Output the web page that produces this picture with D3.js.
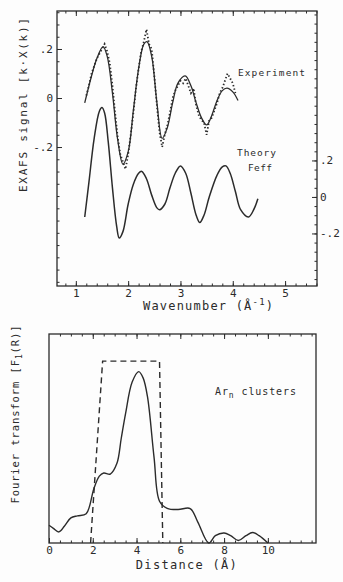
<!DOCTYPE html>
<html>
<head>
<meta charset="utf-8">
<script src="https://cdn.jsdelivr.net/npm/d3@7/dist/d3.min.js"></script>
<style>
  html, body { margin: 0; padding: 0; background: #fdfdfd; }
  svg { display: block; }
  text { font-family: "DejaVu Sans Mono", "Liberation Mono", monospace; fill: #2b2b2b; }
</style>
</head>
<body>
<svg id="fig" width="343" height="582"></svg>
<script>
// --- EXAFS panel: wavenumber k (1/Å) ---
const fitK   = [1.17, 1.3, 1.4, 1.52, 1.6, 1.7, 1.8, 1.9, 2.0, 2.1, 2.2, 2.3, 2.36, 2.45, 2.55, 2.65, 2.75, 2.85, 2.95, 3.09, 3.2, 3.3, 3.4, 3.5, 3.6, 3.7, 3.8, 3.89, 4.0, 4.1];
const fitVal = [-0.02, 0.09, 0.16, 0.21, 0.17, 0.02, -0.17, -0.27, -0.22, -0.05, 0.12, 0.22, 0.23, 0.17, -0.02, -0.165, -0.12, -0.02, 0.06, 0.09, 0.05, -0.02, -0.08, -0.11, -0.07, -0.01, 0.03, 0.04, 0.025, -0.01];

const expK   = [1.2, 1.25, 1.3, 1.35, 1.4, 1.45, 1.5, 1.55, 1.6, 1.65, 1.7, 1.75, 1.8, 1.85, 1.9, 1.95, 2.0, 2.05, 2.1, 2.15, 2.2, 2.25, 2.3, 2.35, 2.4, 2.45, 2.5, 2.55, 2.6, 2.65, 2.7, 2.75, 2.8, 2.85, 2.9, 2.95, 3.0, 3.05, 3.1, 3.15, 3.2, 3.25, 3.3, 3.35, 3.4, 3.45, 3.5, 3.55, 3.6, 3.65, 3.7, 3.75, 3.8, 3.85, 3.9, 3.95, 4.0, 4.05];
const expVal = [0.01, 0.05, 0.1, 0.13, 0.16, 0.18, 0.2, 0.22, 0.19, 0.14, 0.05, -0.06, -0.16, -0.23, -0.26, -0.29, -0.23, -0.15, -0.06, 0.04, 0.12, 0.19, 0.23, 0.28, 0.22, 0.2, 0.09, -0.03, -0.14, -0.2, -0.15, -0.11, -0.06, 0.0, 0.03, 0.05, 0.07, 0.06, 0.08, 0.05, 0.02, 0.04, -0.03, -0.07, -0.09, -0.1, -0.15, -0.09, -0.08, -0.05, -0.02, 0.02, 0.04, 0.07, 0.1, 0.08, 0.06, 0.02];

const feffK   = [1.17, 1.25, 1.35, 1.45, 1.5, 1.55, 1.62, 1.7, 1.78, 1.83, 1.9, 2.0, 2.1, 2.2, 2.26, 2.35, 2.45, 2.55, 2.6, 2.7, 2.8, 2.9, 3.0, 3.1, 3.2, 3.3, 3.37, 3.45, 3.55, 3.7, 3.8, 3.87, 3.95, 4.05, 4.15, 4.3, 4.4, 4.48];
const feffVal = [-0.11, 0.08, 0.32, 0.47, 0.49, 0.46, 0.3, 0.05, -0.16, -0.225, -0.19, -0.04, 0.07, 0.13, 0.14, 0.1, 0.01, -0.06, -0.07, -0.04, 0.05, 0.13, 0.17, 0.13, 0.02, -0.1, -0.14, -0.1, 0.0, 0.12, 0.165, 0.17, 0.13, 0.03, -0.07, -0.11, -0.07, -0.01];

const kTicks      = [1, 2, 3, 4, 5];
const leftTicks   = [0.2, 0, -0.2];
const rightTicks  = [0.2, 0, -0.2];
const yTickLabels = [".2", "0", "-.2"];

// --- Fourier transform panel: distance R (Å) ---
const ftR   = [0, 0.2, 0.45, 0.7, 1.0, 1.3, 1.7, 2.05, 2.3, 2.5, 2.8, 3.1, 3.3, 3.5, 3.8, 4.1, 4.3, 4.5, 4.8, 5.05, 5.4, 5.9, 6.45, 6.8, 7.3, 7.6, 8.0, 8.3, 8.65, 9.0, 9.3, 9.6, 10.0];
const ftVal = [0.085, 0.07, 0.053, 0.08, 0.12, 0.13, 0.14, 0.26, 0.32, 0.335, 0.33, 0.38, 0.5, 0.62, 0.77, 0.82, 0.79, 0.70, 0.41, 0.2, 0.166, 0.16, 0.165, 0.1, 0.0, 0.035, 0.048, 0.035, 0.012, 0.035, 0.05, 0.035, 0.0];

const windowR   = [1.9, 2.45, 5.05, 5.2];
const windowVal = [0.0, 0.87, 0.87, 0.0];

const rTicks = [0, 2, 4, 6, 8, 10];

const ink = "#2b2b2b";
const svg = d3.select("#fig");

function styleAxis(g) {
  g.select(".domain").remove();
  g.selectAll("line").attr("stroke", ink).attr("stroke-width", 1);
  g.selectAll("text").attr("fill", ink).style("font-family", "DejaVu Sans Mono, monospace");
}

// ---------- EXAFS panel ----------
const boxA = { l: 57, r: 317, t: 11, b: 286 };
const k  = d3.scaleLinear().domain([0.64, 5.61]).range([boxA.l, boxA.r]);
const yL = d3.scaleLinear().domain([-0.767, 0.355]).range([boxA.b, boxA.t]);
const yR = d3.scaleLinear().domain([-0.488, 1.019]).range([boxA.b, boxA.t]);

const gA = svg.append("g");

const kMinor = d3.range(0.8, 5.61, 0.2).map(v => +v.toFixed(2));
const yLMinor = d3.range(-0.75, 0.36, 0.05).map(v => +v.toFixed(2));
const yRMinor = d3.range(-0.45, 1.01, 0.05).map(v => +v.toFixed(2));

// minor ticks
gA.append("g").attr("transform", `translate(0,${boxA.b})`)
  .call(d3.axisBottom(k).tickValues(kMinor).tickSize(-2.5).tickFormat("")).call(styleAxis);
gA.append("g").attr("transform", `translate(0,${boxA.t})`)
  .call(d3.axisTop(k).tickValues(kMinor).tickSize(-2.5).tickFormat("")).call(styleAxis);
gA.append("g").attr("transform", `translate(${boxA.l},0)`)
  .call(d3.axisLeft(yL).tickValues(yLMinor).tickSize(-2.5).tickFormat("")).call(styleAxis);
gA.append("g").attr("transform", `translate(${boxA.r},0)`)
  .call(d3.axisRight(yR).tickValues(yRMinor).tickSize(-2.5).tickFormat("")).call(styleAxis);

// major ticks and labels
gA.append("g").attr("transform", `translate(0,${boxA.b})`)
  .call(d3.axisBottom(k).tickValues(kTicks).tickSize(-5).tickPadding(3).tickFormat(d3.format("d")))
  .call(styleAxis)
  .selectAll("text").style("font-size", "11px");
gA.append("g").attr("transform", `translate(0,${boxA.t})`)
  .call(d3.axisTop(k).tickValues(kTicks.slice(0, 4)).tickSize(-5).tickFormat("")).call(styleAxis);
gA.append("g").attr("transform", `translate(${boxA.l},0)`)
  .call(d3.axisLeft(yL).tickValues(leftTicks).tickSize(-5).tickPadding(4)
    .tickFormat((d, i) => yTickLabels[i]))
  .call(styleAxis)
  .selectAll("text").style("font-size", "11px");
gA.append("g").attr("transform", `translate(${boxA.r},0)`)
  .call(d3.axisRight(yR).tickValues(rightTicks).tickSize(-5).tickPadding(3)
    .tickFormat((d, i) => yTickLabels[i]))
  .call(styleAxis)
  .selectAll("text").style("font-size", "11px");

gA.append("rect")
  .attr("x", boxA.l).attr("y", boxA.t)
  .attr("width", boxA.r - boxA.l).attr("height", boxA.b - boxA.t)
  .attr("fill", "none").attr("stroke", ink).attr("stroke-width", 1.3);

const lineFit = d3.line().x(d => k(d[0])).y(d => yL(d[1])).curve(d3.curveCatmullRom.alpha(0.5));
const lineExp = d3.line().x(d => k(d[0])).y(d => yL(d[1])).curve(d3.curveLinear);
const lineFeff = d3.line().x(d => k(d[0])).y(d => yR(d[1])).curve(d3.curveCatmullRom.alpha(0.5));

gA.append("path")
  .attr("d", lineExp(d3.zip(expK, expVal)))
  .attr("fill", "none").attr("stroke", ink).attr("stroke-width", 1.8)
  .attr("stroke-dasharray", "1.4 2.2");
gA.append("path")
  .attr("d", lineFit(d3.zip(fitK, fitVal)))
  .attr("fill", "none").attr("stroke", ink).attr("stroke-width", 1.3);
gA.append("path")
  .attr("d", lineFeff(d3.zip(feffK, feffVal)))
  .attr("fill", "none").attr("stroke", ink).attr("stroke-width", 1.5);

gA.append("text").attr("x", 238).attr("y", 75.5)
  .style("font-size", "9.5px").attr("textLength", 67).attr("lengthAdjust", "spacing")
  .text("Experiment");
gA.append("text").attr("x", 237).attr("y", 156)
  .style("font-size", "9.5px").attr("textLength", 39).attr("lengthAdjust", "spacing")
  .text("Theory");
gA.append("text").attr("x", 248).attr("y", 171)
  .style("font-size", "9.5px").attr("textLength", 24).attr("lengthAdjust", "spacing")
  .text("Feff");

gA.append("text")
  .attr("transform", "translate(27,105) rotate(-90)")
  .attr("text-anchor", "middle")
  .style("font-size", "11px").attr("textLength", 174).attr("lengthAdjust", "spacing")
  .text("EXAFS signal [k·X(k)]");

const wl = gA.append("text").attr("x", 143).attr("y", 310)
  .style("font-size", "12px").style("letter-spacing", "1.2px");
wl.append("tspan").text("Wavenumber (Å");
wl.append("tspan").attr("dy", -5).style("font-size", "9px").text("-1");
wl.append("tspan").attr("dy", 5).text(")");

// ---------- Fourier transform panel ----------
const boxB = { l: 49, r: 316, t: 334, b: 543 };
const R = d3.scaleLinear().domain([0, 12.2]).range([boxB.l, boxB.r]);
const F = d3.scaleLinear().domain([0, 1]).range([boxB.b, boxB.t]);

const gB = svg.append("g");
const rMinor = d3.range(0.5, 12.2, 0.5).map(v => +v.toFixed(1));

gB.append("g").attr("transform", `translate(0,${boxB.b})`)
  .call(d3.axisBottom(R).tickValues(rMinor).tickSize(-2.5).tickFormat("")).call(styleAxis);
gB.append("g").attr("transform", `translate(0,${boxB.t})`)
  .call(d3.axisTop(R).tickValues(rMinor).tickSize(-2.5).tickFormat("")).call(styleAxis);
gB.append("g").attr("transform", `translate(0,${boxB.b})`)
  .call(d3.axisBottom(R).tickValues(rTicks).tickSize(-5).tickPadding(3).tickFormat(d3.format("d")))
  .call(styleAxis)
  .selectAll("text").style("font-size", "11px");
gB.append("g").attr("transform", `translate(0,${boxB.t})`)
  .call(d3.axisTop(R).tickValues(rTicks.slice(1)).tickSize(-5).tickFormat("")).call(styleAxis);

gB.append("rect")
  .attr("x", boxB.l).attr("y", boxB.t)
  .attr("width", boxB.r - boxB.l).attr("height", boxB.b - boxB.t)
  .attr("fill", "none").attr("stroke", ink).attr("stroke-width", 1.3);

const lineFT = d3.line().x(d => R(d[0])).y(d => F(d[1])).curve(d3.curveCatmullRom.alpha(0.5));
const lineWin = d3.line().x(d => R(d[0])).y(d => F(d[1])).curve(d3.curveLinear);

gB.append("path")
  .attr("d", lineWin(d3.zip(windowR, windowVal)))
  .attr("fill", "none").attr("stroke", ink).attr("stroke-width", 1.4)
  .attr("stroke-dasharray", "6 4");
gB.append("path")
  .attr("d", lineFT(d3.zip(ftR, ftVal)))
  .attr("fill", "none").attr("stroke", ink).attr("stroke-width", 1.4);

const ar = gB.append("text").attr("x", 215).attr("y", 395)
  .style("font-size", "10px").style("letter-spacing", "0.9px");
ar.append("tspan").text("Ar");
ar.append("tspan").attr("dy", 3).style("font-size", "8px").text("n");
ar.append("tspan").attr("dy", -3).text(" clusters");

const ft = gB.append("text")
  .attr("transform", "translate(19,414) rotate(-90)")
  .attr("text-anchor", "middle")
  .style("font-size", "10.5px").style("letter-spacing", "0.9px");
ft.append("tspan").text("Fourier transform [F");
ft.append("tspan").attr("dy", 3).style("font-size", "8px").text("1");
ft.append("tspan").attr("dy", -3).text("(R)]");

gB.append("text").attr("x", 187).attr("y", 569)
  .attr("text-anchor", "middle")
  .style("font-size", "12px").style("letter-spacing", "1.3px")
  .text("Distance (Å)");
</script>
</body>
</html>
